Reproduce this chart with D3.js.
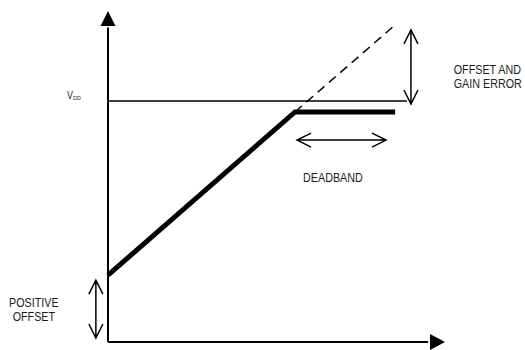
<!DOCTYPE html>
<html>
<head>
<meta charset="utf-8">
<script src="https://cdn.jsdelivr.net/npm/d3@7"></script>
<style>
  html, body { margin: 0; padding: 0; background: #fff; }
  text { font-family: "Liberation Sans", Arial, sans-serif; fill: #1a1a1a; }
</style>
</head>
<body>
<div id="chart"></div>
<script>
// transfer curve data (input code units 0..100, output units 0..100)
const actualCurve = [[0, 20.2], [55.5, 69.5], [85.2, 69.5]];
const idealExtension = [[55.5, 69.5], [85.2, 95.8]];
const vddLevel = 72.8;
const vddExtent = [0, 88.7];

// double arrows: [x1, y1, x2, y2]
const gainArrow = [89.9, 94.3, 89.9, 71.9];
const deadbandArrow = [56.1, 61.0, 82.5, 61.0];
const offsetArrow = [-3.6, 18.7, -3.6, 1.2];

// annotation labels
const labels = [
  { lines: ["OFFSET AND", "GAIN ERROR"], x: 102.6, y: 80.9, anchor: "start" },
  { lines: ["DEADBAND"], x: 57.9, y: 48.3, anchor: "start" },
  { lines: ["POSITIVE", "OFFSET"], x: -22.0, y: 10.6, anchor: "middle" }
];

const width = 525, height = 350;
const svg = d3.select("#chart").append("svg")
  .attr("width", width)
  .attr("height", height);

const x = d3.scaleLinear().domain([0, 100]).range([108, 445]);
const y = d3.scaleLinear().domain([0, 100]).range([342, 11]);

const line = d3.line().x(d => x(d[0])).y(d => y(d[1]));

// axes
svg.append("line")
  .attr("x1", x(0)).attr("y1", y(0))
  .attr("x2", x(0)).attr("y2", y(95))
  .attr("stroke", "#000").attr("stroke-width", 2);
svg.append("line")
  .attr("x1", x(0)).attr("y1", y(0))
  .attr("x2", x(95)).attr("y2", y(0))
  .attr("stroke", "#000").attr("stroke-width", 2);

// axis arrow heads
svg.append("path")
  .attr("d", `M${x(0)},${y(100)}L${x(0) - 7.5},${y(100) + 15}L${x(0) + 7.5},${y(100) + 15}Z`)
  .attr("fill", "#000");
svg.append("path")
  .attr("d", `M${x(100)},${y(0)}L${x(100) - 15},${y(0) - 8}L${x(100) - 15},${y(0) + 8}Z`)
  .attr("fill", "#000");

// VDD level
svg.append("line")
  .attr("x1", x(vddExtent[0])).attr("x2", x(vddExtent[1]))
  .attr("y1", y(vddLevel)).attr("y2", y(vddLevel))
  .attr("stroke", "#000").attr("stroke-width", 1.5);

const vdd = svg.append("text")
  .attr("transform", `translate(67,${y(vddLevel) - 2}) scale(0.9,1)`)
  .attr("font-size", 10);
vdd.append("tspan").text("V");
vdd.append("tspan").attr("font-size", 6).attr("dy", 1).text("DD");

// ideal (dashed) extension
svg.append("path")
  .attr("d", line(idealExtension))
  .attr("fill", "none")
  .attr("stroke", "#000")
  .attr("stroke-width", 1.5)
  .attr("stroke-dasharray", "9,6");

// actual transfer curve
svg.append("path")
  .attr("d", line(actualCurve))
  .attr("fill", "none")
  .attr("stroke", "#000")
  .attr("stroke-width", 5);

// open-headed double arrows
function doubleArrow(a) {
  const x1 = x(a[0]), y1 = y(a[1]), x2 = x(a[2]), y2 = y(a[3]);
  const ang = Math.atan2(y2 - y1, x2 - x1);
  const len = 14, half = 7;
  function head(tx, ty, dir) {
    const bx = tx - Math.cos(dir) * len, by = ty - Math.sin(dir) * len;
    const px = -Math.sin(dir) * half, py = Math.cos(dir) * half;
    return `M${bx + px},${by + py}L${tx},${ty}L${bx - px},${by - py}`;
  }
  svg.append("path")
    .attr("d", `M${x1},${y1}L${x2},${y2}` + head(x2, y2, ang) + head(x1, y1, ang + Math.PI))
    .attr("fill", "none")
    .attr("stroke", "#000")
    .attr("stroke-width", 1.5);
}
[gainArrow, deadbandArrow, offsetArrow].forEach(doubleArrow);

// labels (condensed type, like the original figure)
labels.forEach(l => {
  const t = svg.append("text")
    .attr("transform", `translate(${x(l.x)},${y(l.y)}) scale(0.86,1)`)
    .attr("font-size", 12.5)
    .attr("text-anchor", l.anchor);
  l.lines.forEach((s, i) => {
    t.append("tspan")
      .attr("x", 0)
      .attr("dy", i === 0 ? 0 : 14)
      .text(s);
  });
});
</script>
</body>
</html>
